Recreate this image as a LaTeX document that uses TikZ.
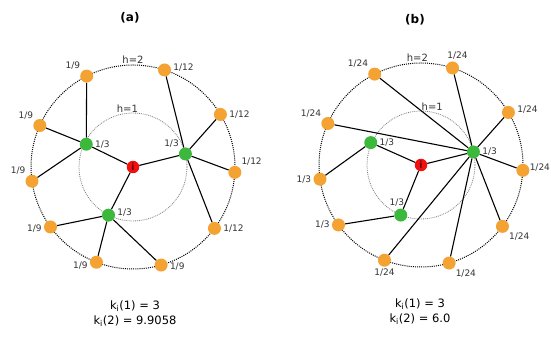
\documentclass[tikz,border=0pt]{standalone}
\usepackage{fontspec}
\setmainfont{DejaVu Sans}
\usetikzlibrary{positioning,calc}
\definecolor{orng}{HTML}{F4A232}
\definecolor{grn}{HTML}{3CB93C}
\definecolor{rd}{HTML}{F01010}

\begin{document}
\begin{tikzpicture}[
    x=1pt, y=1pt,
    dot/.style={circle, inner sep=0pt, minimum size=13pt},
    outer/.style={dot, fill=orng},
    mid/.style={dot, fill=grn},
    root/.style={dot, fill=rd, minimum size=12.5pt, text=black, font=\fontsize{10}{10}\selectfont},
    lbl/.style={font=\fontsize{9}{10}\selectfont, text=black!80, inner sep=1pt},
    hlbl/.style={font=\fontsize{10}{11}\selectfont, text=black!80, inner sep=1pt},
    res/.style={font=\fontsize{11.5}{15}\selectfont, align=center},
    ttl/.style={font=\fontsize{12}{13}\selectfont\bfseries},
    ring/.style={line width=1pt, dash pattern=on 1pt off 1.1pt},
    inring/.style={line width=0.8pt, dash pattern=on 0.9pt off 1pt, black!50},
    edge/.style={line width=1.1pt},
    every label/.style={lbl},
    label distance=1pt
  ]
    \useasboundingbox (0,0) rectangle (551,339);

    % (a)
    \node[ttl] (atitle) at (130,321) {(a)};
    \begin{scope}[shift={(133,172)}]
      \draw[ring] (0,0) circle (102pt);
      \draw[inring] (0,0) circle (54pt);
      \node[hlbl, above] (ah2) at (90:102pt) {h=2};
      \node[hlbl, above] (ah1) at (96:54pt) {h=1};

      \node[root] (ai) at (0,0) {i};
      \node[mid, label=right:1/3] (ag1) at (154:52pt) {};
      \node[mid, label=above left:1/3] (ag2) at (14:54pt) {};
      \node[mid, label={[yshift=3pt]right:1/3}] (ag3) at (243:54pt) {};

      \node[outer, label=above left:1/9] (ao1) at (117:102pt) {};
      \node[outer, label=above left:1/9] (ao2) at (156:102pt) {};
      \node[outer, label=above left:1/9] (ao3) at (188:102pt) {};
      \node[outer, label={[yshift=-2pt]left:1/9}] (ao4) at (216:102pt) {};
      \node[outer, label={[yshift=-3pt]left:1/9}] (ao5) at (249:102pt) {};
      \node[outer, label={[yshift=-2pt]right:1/9}] (ao6) at (286:102pt) {};
      \node[outer, label=right:1/12] (ao7) at (323:102pt) {};
      \node[outer, label=above right:1/12] (ao8) at (357:102pt) {};
      \node[outer, label=right:1/12] (ao9) at (31:102pt) {};
      \node[outer, label={[yshift=2pt]right:1/12}] (ao10) at (72:102pt) {};
    \end{scope}
    \foreach \s/\t in {ai/ag1, ai/ag2, ai/ag3,
                       ag1/ao1, ag1/ao2, ag1/ao3,
                       ag3/ao4, ag3/ao5, ag3/ao6,
                       ag2/ao7, ag2/ao8, ag2/ao9, ag2/ao10}
      \draw[edge] (\s) -- (\t);
    \node[res] (ares) at (135,25) {k\textsubscript{i}(1) = 3\\k\textsubscript{i}(2) = 9.9058};

    % (b)
    \node[ttl] (btitle) at (415,319) {(b)};
    \begin{scope}[shift={(421,174)}]
      \draw[ring] (0,0) circle (102pt);
      \draw[inring] (0,0) circle (54pt);
      \node[hlbl, above] (bh2) at (92:102pt) {h=2};
      \node[hlbl, above] (bh1) at (78:54pt) {h=1};

      \node[root] (bi) at (0,0) {i};
      \node[mid, label=right:1/3] (bg1) at (156:55pt) {};
      \node[mid, label=right:1/3] (bg2) at (14:54pt) {};
      \node[mid, label={[xshift=-4pt]above:1/3}] (bg3) at (248:54pt) {};

      \node[outer, label=above left:1/24] (bo1) at (117:102pt) {};
      \node[outer, label=above left:1/24] (bo2) at (156:102pt) {};
      \node[outer, label=left:1/3] (bo3) at (188:102pt) {};
      \node[outer, label=left:1/3] (bo4) at (216:102pt) {};
      \node[outer, label=below:1/24] (bo5) at (249:102pt) {};
      \node[outer, label=below right:1/24] (bo6) at (286:102pt) {};
      \node[outer, label=below right:1/24] (bo7) at (323:102pt) {};
      \node[outer, label={[yshift=3pt, xshift=-2pt]right:1/24}] (bo8) at (357:102pt) {};
      \node[outer, label={[yshift=3pt]right:1/24}] (bo9) at (31:102pt) {};
      \node[outer, label={[xshift=5pt]above:1/24}] (bo10) at (72:102pt) {};
    \end{scope}
    \foreach \s/\t in {bi/bg1, bi/bg2, bi/bg3,
                       bg1/bo3, bg3/bo4,
                       bg2/bo1, bg2/bo2, bg2/bo5, bg2/bo6,
                       bg2/bo7, bg2/bo8, bg2/bo9, bg2/bo10}
      \draw[edge] (\s) -- (\t);
    \node[res] (bres) at (420,27) {k\textsubscript{i}(1) = 3\\k\textsubscript{i}(2) = 6.0};
  \end{tikzpicture}
\end{document}
